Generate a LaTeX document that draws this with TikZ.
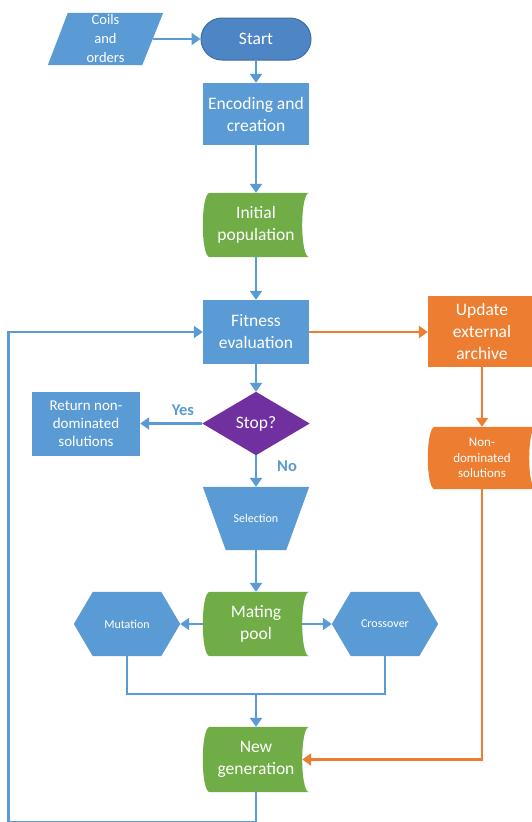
\documentclass[tikz,border=0pt]{standalone}
\usepackage{fontspec}
\setmainfont{Carlito}
\usetikzlibrary{arrows.meta,backgrounds,calc}
\definecolor{cblue}{RGB}{91,155,213}
\definecolor{sblue}{RGB}{78,133,196}
\definecolor{sedge}{RGB}{62,108,158}
\definecolor{cgreen}{RGB}{112,173,71}
\definecolor{corange}{RGB}{237,125,49}
\definecolor{cpurple}{RGB}{112,48,160}
\newcommand\stdshape[2]{\fill[#2] ([xshift=7pt]#1.north west) -- (#1.north east) .. controls ([xshift=-9.33pt]#1.north east) and ([xshift=-9.33pt]#1.south east) .. (#1.south east) -- ([xshift=7pt]#1.south west) .. controls ([xshift=-2.33pt]#1.south west) and ([xshift=-2.33pt]#1.north west) .. ([xshift=7pt]#1.north west) -- cycle;}
\newcommand\hexshape[2]{\fill[#2] (#1.west) -- ([xshift=19pt]#1.north west) -- ([xshift=-19pt]#1.north east) -- (#1.east) -- ([xshift=-19pt]#1.south east) -- ([xshift=19pt]#1.south west) -- cycle;}
\tikzset{
  box/.style={rectangle, minimum width=106pt, minimum height=64pt, inner sep=0pt, align=center, text=white},
  big/.style={font=\fontsize{17.5}{22}\selectfont},
  mid/.style={font=\fontsize{15}{18}\selectfont},
  coil/.style={font=\fontsize{14.5}{19}\selectfont},
  sml/.style={font=\fontsize{13}{15.5}\selectfont},
  tiny/.style={font=\fontsize{12}{14}\selectfont},
  conn/.style={draw=cblue, line width=2.8pt},
  oconn/.style={draw=corange, line width=2.8pt},
  arr/.style={-{Triangle[width=12pt,length=9pt]}},
  lab/.style={text=cblue, font=\bfseries\fontsize{16.5}{19}\selectfont, inner sep=0pt},
}
\begin{document}
\begin{tikzpicture}[x=1pt,y=-1pt]
\useasboundingbox (0,0) rectangle (532,822);
% nodes
\node[box, coil, minimum width=115pt, minimum height=52pt] (coils) at (105.5,39) {Coils\\and\\orders};
\node[box, big, minimum width=110pt, minimum height=42pt, rounded corners=21pt, fill=sblue, draw=sedge, line width=1pt] (start) at (256,39) {Start};
\node[box, big, fill=cblue, minimum height=62pt] (enc) at (256,114) {Encoding and\\creation};
\node[box, big] (init) at (256,225) {Initial\\population};
\node[box, big, fill=cblue] (fit) at (256,332) {Fitness\\evaluation};
\node[box, big, fill=corange, minimum width=108pt, minimum height=71pt] (upd) at (482,331.5) {Update\\external\\archive};
\node[box, big, minimum width=107pt, minimum height=63pt] (stop) at (256,423.5) {Stop?};
\node[box, mid, fill=cblue, minimum width=108pt] (ret) at (86,424) {Return non-\\dominated\\solutions};
\node[box, sml, minimum width=108pt, minimum height=62pt] (nd) at (482,458) {Non-\\dominated\\solutions};
\node[box, tiny, minimum height=63pt] (sel) at (256,518.5) {Selection};
\node[box, big] (mat) at (256,624) {Mating\\pool};
\node[box, tiny] (mut) at (127,624) {Mutation};
\node[box, tiny] (cro) at (385,624) {Crossover};
\node[box, big, minimum height=65pt] (ng) at (256,759.5) {New\\generation};
\node[lab] (yes) at (183,410) {Yes};
\node[lab] (no) at (287,466) {No};
% shapes behind the texts
\begin{pgfonlayer}{background}
\fill[white] (0,0) rectangle (532,822);
\fill[cblue] ([xshift=20pt]coils.north west) -- (coils.north east) -- ([xshift=-21pt]coils.south east) -- (coils.south west) -- cycle;
\stdshape{init}{cgreen}
\stdshape{mat}{cgreen}
\stdshape{ng}{cgreen}
\stdshape{nd}{corange}
\fill[cpurple] (stop.north) -- (stop.east) -- (stop.south) -- (stop.west) -- cycle;
\fill[cblue] (sel.north west) -- (sel.north east) -- ([xshift=-23pt]sel.south east) -- ([xshift=23pt]sel.south west) -- cycle;
\hexshape{mut}{cblue}
\hexshape{cro}{cblue}
\end{pgfonlayer}
% connectors
\draw[conn,arr] ([xshift=-10.5pt]coils.east) -- (start.west);
\draw[conn,arr] (start) -- (enc);
\draw[conn,arr] (enc) -- (init);
\draw[conn,arr] (init) -- (fit);
\draw[oconn,arr] (fit.east) -- (fit.east -| upd.west);
\draw[oconn,arr] (upd) -- (nd);
\draw[conn,arr] (fit) -- (stop);
\draw[conn,arr] (stop.west) -- (stop.west -| ret.east);
\draw[conn,arr] (stop) -- (sel);
\draw[conn,arr] (sel) -- (mat);
\draw[conn,arr] (mat.west) -- (mut.east);
\draw[conn,arr] ([xshift=-7pt]mat.east) -- (cro.west);
\coordinate (j) at (256,694);
\draw[conn] (mut.south) |- (j) -| (cro.south);
\draw[conn,arr] (j) -- (ng);
\draw[oconn,arr] (nd.south) |- ([xshift=-7pt]ng.east);
\coordinate (lb) at (8.5,822.5);
\draw[conn,arr] (ng.south) |- (lb) |- (fit.west);
\end{tikzpicture}
\end{document}
